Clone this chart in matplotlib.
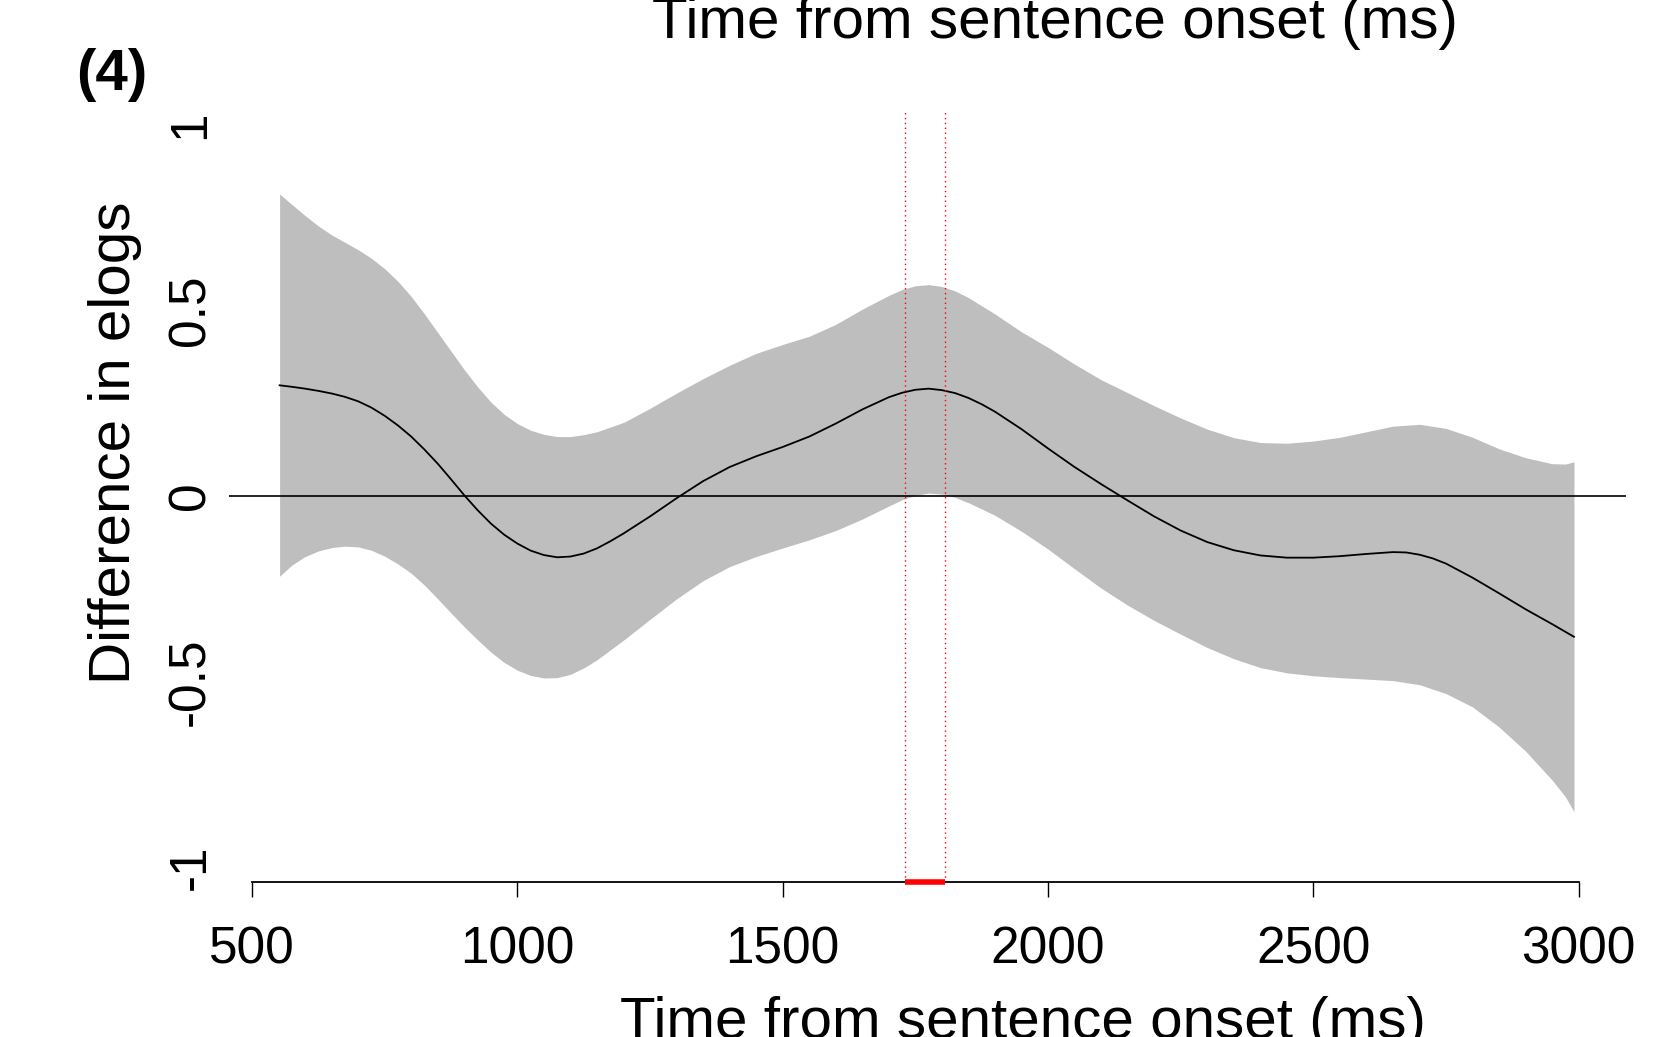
import numpy as np
import matplotlib
matplotlib.use("Agg")
import matplotlib.pyplot as plt

plt.rcParams['font.family'] = ['Liberation Sans', 'DejaVu Sans']

# fitted difference curve (ms, elogs)
time_fit = [552, 575, 600, 625, 650, 675, 700, 725, 750, 775,
            800, 825, 850, 875, 900, 925, 950, 975, 1000, 1025,
            1050, 1075, 1100, 1125, 1150, 1175, 1200, 1250, 1300, 1350,
            1400, 1450, 1500, 1550, 1600, 1650, 1700, 1725, 1750, 1775,
            1800, 1825, 1850, 1875, 1900, 1950, 2000, 2050, 2100, 2150,
            2200, 2250, 2300, 2350, 2400, 2450, 2500, 2550, 2600, 2650,
            2675, 2700, 2725, 2750, 2800, 2850, 2900, 2950, 2991]

fit = [0.298, 0.294, 0.289, 0.283, 0.276, 0.267, 0.255, 0.238, 0.216, 0.190,
       0.160, 0.125, 0.087, 0.045, 0.002, -0.038, -0.074, -0.104, -0.128, -0.147,
       -0.159, -0.165, -0.163, -0.155, -0.141, -0.122, -0.101, -0.055, -0.006, 0.040,
       0.078, 0.107, 0.132, 0.160, 0.195, 0.233, 0.266, 0.278, 0.286, 0.289,
       0.285, 0.277, 0.264, 0.247, 0.227, 0.180, 0.128, 0.078, 0.032, -0.012,
       -0.055, -0.093, -0.124, -0.146, -0.160, -0.166, -0.166, -0.162, -0.156, -0.151,
       -0.152, -0.158, -0.168, -0.182, -0.220, -0.262, -0.305, -0.345, -0.379]

# confidence band
time_band = [552, 575, 600, 625, 650, 675, 700, 725, 750, 775,
             800, 825, 850, 875, 900, 925, 950, 975, 1000, 1025,
             1050, 1075, 1100, 1125, 1150, 1200, 1250, 1300, 1350, 1400,
             1450, 1500, 1550, 1600, 1650, 1700, 1725, 1750, 1775, 1800,
             1825, 1850, 1900, 1950, 2000, 2050, 2100, 2150, 2200, 2250,
             2300, 2350, 2400, 2450, 2500, 2550, 2600, 2650, 2700, 2750,
             2800, 2850, 2900, 2950, 2975, 2991]

upper = [0.813, 0.785, 0.755, 0.727, 0.703, 0.683, 0.663, 0.640, 0.612, 0.578,
         0.537, 0.490, 0.440, 0.390, 0.340, 0.294, 0.253, 0.220, 0.195, 0.177,
         0.166, 0.160, 0.160, 0.165, 0.173, 0.198, 0.236, 0.277, 0.316, 0.352,
         0.384, 0.408, 0.430, 0.462, 0.503, 0.540, 0.556, 0.566, 0.569, 0.564,
         0.552, 0.534, 0.490, 0.442, 0.400, 0.355, 0.313, 0.278, 0.243, 0.210,
         0.180, 0.157, 0.144, 0.142, 0.148, 0.158, 0.173, 0.188, 0.193, 0.182,
         0.158, 0.127, 0.103, 0.087, 0.086, 0.092]

lower = [-0.216, -0.186, -0.163, -0.148, -0.139, -0.135, -0.137, -0.146, -0.162, -0.183,
         -0.208, -0.240, -0.277, -0.315, -0.352, -0.387, -0.420, -0.448, -0.469, -0.483,
         -0.490, -0.489, -0.480, -0.463, -0.441, -0.388, -0.332, -0.277, -0.228, -0.190,
         -0.163, -0.140, -0.118, -0.093, -0.062, -0.027, -0.010, 0.002, 0.008, 0.005,
         -0.004, -0.018, -0.052, -0.095, -0.143, -0.196, -0.248, -0.294, -0.335, -0.372,
         -0.408, -0.438, -0.462, -0.476, -0.484, -0.489, -0.493, -0.497, -0.508, -0.532,
         -0.568, -0.622, -0.687, -0.765, -0.810, -0.850]

# window where the band excludes zero
sig_start, sig_end = 1730, 1805

x_ticks = [500, 1000, 1500, 2000, 2500, 3000]
y_ticks = [-1, -0.5, 0, 0.5, 1]
y_tick_labels = ['-1', '-0.5', '0', '0.5', '1']

W, H = 1673, 1037
fig = plt.figure(figsize=(W / 100, H / 100), dpi=100)
ax = fig.add_axes([229.4 / W, 1 - 882.3 / H, (1625.7 - 229.4) / W, (882.3 - 109.7) / H])

ax.fill_between(time_band, lower, upper, color='#BEBEBE', linewidth=0)
ax.plot(time_fit, fit, color='black', linewidth=1.3)
ax.axhline(0, color='black', linewidth=1.2)

ax.set_xlim(457.4, 3088.5)
ax.set_ylim(-1.04, 1.04)

for xv in (sig_start, sig_end):
    ax.axvline(xv, color='red', linestyle=(0, (1, 2.5)), linewidth=1.0)
ax.plot([sig_start, sig_end], [-1.04, -1.04], color='red', linewidth=4,
        solid_capstyle='butt', clip_on=False, zorder=5)

for s in ['top', 'right', 'left']:
    ax.spines[s].set_visible(False)
ax.spines['bottom'].set_bounds(500, 3000)
ax.spines['bottom'].set_linewidth(1.3)

ax.set_xticks(x_ticks)
ax.set_xticklabels([str(v) for v in x_ticks])
ax.tick_params(axis='x', length=11, width=1, labelsize=37, pad=20)
ax.set_yticks(y_ticks)
ax.set_yticklabels(y_tick_labels, rotation=90, va='center')
ax.tick_params(axis='y', length=0, labelsize=37, pad=10)

fig.text(1022.6 / W, 1 - 1038 / H, 'Time from sentence onset (ms)',
         fontsize=42, ha='center', va='baseline')
fig.text(1055 / W, 1 - 38 / H, 'Time from sentence onset (ms)',
         fontsize=42, ha='center', va='baseline')
fig.text(130 / W, 1 - 443 / H, 'Difference in elogs', fontsize=42,
         rotation=90, rotation_mode='anchor', ha='center', va='baseline')
fig.text(112 / W, 1 - 74.5 / H, '(4)', fontsize=42, fontweight='bold',
         ha='center', va='center')

fig.savefig('out.png', dpi=100)
